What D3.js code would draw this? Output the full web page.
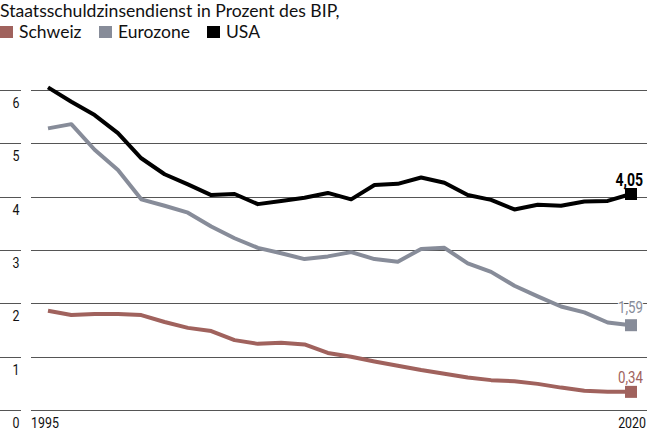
<!DOCTYPE html>
<html>
<head>
<meta charset="utf-8">
<script src="https://cdn.jsdelivr.net/npm/d3@7"></script>
<style>
  body { margin: 0; background: #fff; }
  svg { display: block; }
</style>
</head>
<body>
<div id="chart"></div>
<script>
const years = d3.range(1995, 2021);
const schweiz = [1.86, 1.78, 1.80, 1.80, 1.78, 1.65, 1.54, 1.48, 1.31, 1.24, 1.26, 1.23, 1.07,
  1.00, 0.91, 0.83, 0.75, 0.68, 0.61, 0.56, 0.54, 0.49, 0.42, 0.36, 0.34, 0.34];
const eurozone = [5.28, 5.36, 4.88, 4.50, 3.95, 3.83, 3.70, 3.44, 3.22, 3.04, 2.94, 2.83, 2.88,
  2.96, 2.83, 2.78, 3.02, 3.04, 2.75, 2.59, 2.33, 2.13, 1.94, 1.83, 1.64, 1.59];
const usa = [6.05, 5.78, 5.53, 5.19, 4.72, 4.42, 4.23, 4.03, 4.05, 3.86, 3.92, 3.98, 4.07,
  3.95, 4.22, 4.24, 4.36, 4.26, 4.03, 3.94, 3.76, 3.85, 3.83, 3.91, 3.92, 4.05];
const yTicks = [0, 1, 2, 3, 4, 5, 6];
const endLabels = ["0,34", "1,59", "4,05"];

const series = [
  { name: "Schweiz", values: schweiz, color: "#a0625d", label: endLabels[0], dy: -9 },
  { name: "Eurozone", values: eurozone, color: "#878c99", label: endLabels[1], dy: -12 },
  { name: "USA", values: usa, color: "#000000", label: endLabels[2], dy: -8 }
];

const width = 647, height = 431;

const svg = d3.select("#chart").append("svg")
  .attr("width", width)
  .attr("height", height);

const x = d3.scaleLinear().domain([1995, 2020]).range([48, 631]);
const y = d3.scaleLinear().domain([0, 6]).range([410, 90]);

// narrow number text: squeezed horizontally around its anchor point
function numText(parent, tx, ty, str, size, anchor, squeeze) {
  return parent.append("text")
    .attr("transform", `translate(${tx},${ty}) scale(${squeeze || 0.8},1)`)
    .attr("text-anchor", anchor || "start")
    .attr("font-family", "Roboto, sans-serif")
    .attr("font-size", size)
    .attr("fill", "#111")
    .text(str);
}

// title + legend
svg.append("text")
  .attr("x", 0).attr("y", 17)
  .attr("font-family", "Lato, sans-serif")
  .attr("font-size", 17.6)
  .attr("fill", "#111")
  .text("Staatsschuldzinsendienst in Prozent des BIP,");

const legendX = [0, 99, 207];
const legend = svg.selectAll("g.legend")
  .data(series)
  .enter().append("g")
  .attr("transform", (d, i) => `translate(${legendX[i]},26)`);
legend.append("rect")
  .attr("width", 13).attr("height", 12)
  .attr("fill", d => d.color);
legend.append("text")
  .attr("x", 19).attr("y", 12)
  .attr("font-family", "Lato, sans-serif")
  .attr("font-size", 17.5)
  .attr("fill", "#111")
  .text(d => d.name);

// gridlines
const grid = svg.append("g");
grid.selectAll("line.stub")
  .data(yTicks)
  .enter().append("line")
  .attr("x1", 0).attr("x2", 21)
  .attr("y1", d => Math.round(y(d)) + 0.5)
  .attr("y2", d => Math.round(y(d)) + 0.5)
  .attr("stroke", "#555").attr("stroke-width", 1);
grid.selectAll("line.main")
  .data(yTicks)
  .enter().append("line")
  .attr("x1", 31).attr("x2", width)
  .attr("y1", d => Math.round(y(d)) + 0.5)
  .attr("y2", d => Math.round(y(d)) + 0.5)
  .attr("stroke", "#555").attr("stroke-width", 1);
yTicks.forEach(t => numText(grid, 16, y(t) + 18, t, 15.5, "middle"));

// x labels
numText(svg, 31, 428, years[0], 15.5);
numText(svg, 646, 428, years[years.length - 1], 15.5, "end");

// lines
const line = d3.line()
  .x((d, i) => x(years[i]))
  .y(d => y(d));

svg.selectAll("path.series")
  .data(series)
  .enter().append("path")
  .attr("d", d => line(d.values))
  .attr("fill", "none")
  .attr("stroke", d => d.color)
  .attr("stroke-width", 4)
  .attr("stroke-linejoin", "round");

// end markers and labels
const last = years.length - 1;
series.forEach(s => {
  const cx = x(years[last]), cy = y(s.values[last]);
  const bold = s.name === "USA";
  numText(svg, cx + 12, cy + s.dy, s.label, bold ? 18 : 17, "end", 0.78)
    .attr("font-weight", bold ? "bold" : "normal")
    .attr("fill", s.color)
    .attr("stroke", "#fff").attr("stroke-width", 2.5).attr("paint-order", "stroke");
  svg.append("rect")
    .attr("x", cx - 6).attr("y", cy - 6)
    .attr("width", 12).attr("height", 12)
    .attr("fill", s.color);
});
</script>
</body>
</html>
